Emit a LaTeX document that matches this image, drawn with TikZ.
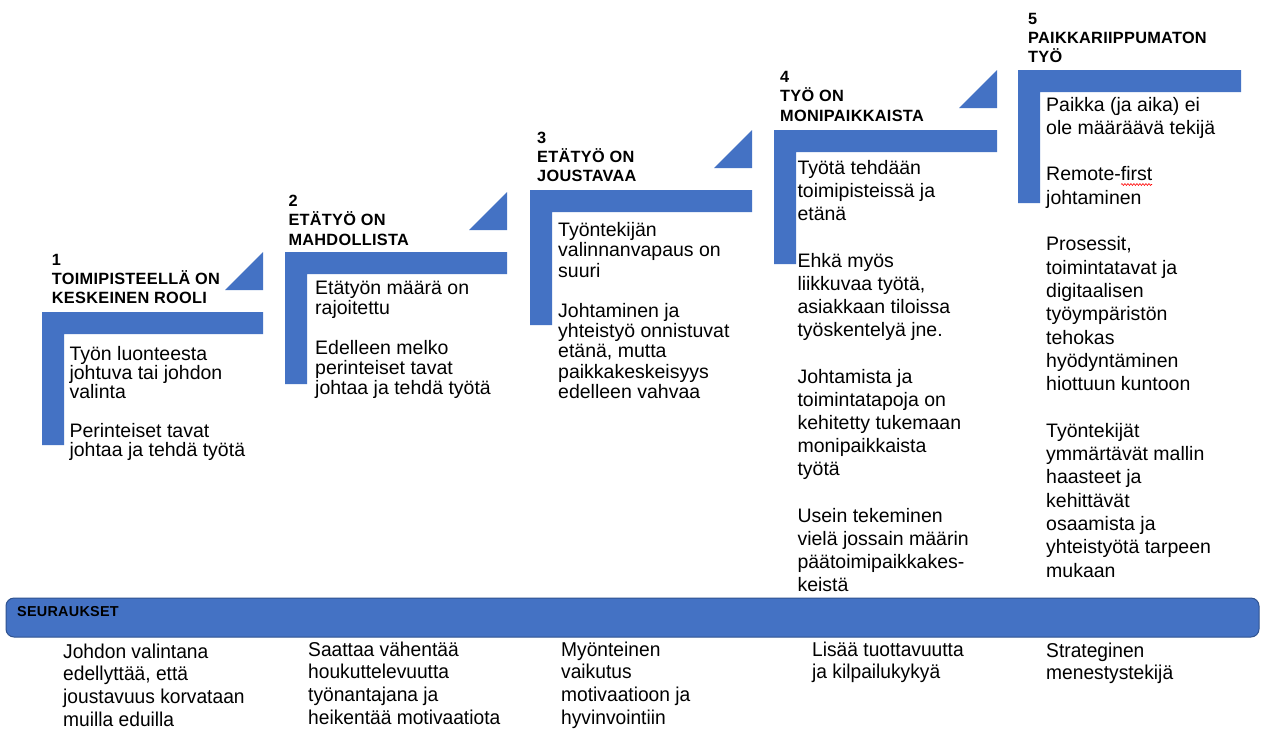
\documentclass[tikz,border=0pt]{standalone}
\usepackage{fontspec}
\setmainfont[Ligatures=NoCommon]{Liberation Sans}
\newfontfamily\narrowfont[FakeStretch=0.96,Ligatures=NoCommon]{Liberation Sans}
\newfontfamily\headfont[LetterSpace=1.8,Ligatures=NoCommon]{Liberation Sans}
\usetikzlibrary{decorations.pathmorphing}
\definecolor{stepblue}{HTML}{4472C4}
\definecolor{edgeblue}{HTML}{2F528F}
\newcommand\txtblock[2]{\vtop{\baselineskip=#1pt\lineskip=0pt\lineskiplimit=-1000pt\halign{##\hfil\cr#2\crcr}}}
\begin{document}
\begin{tikzpicture}[x=1pt,y=-1pt,
  stepshape/.style={fill=stepblue, draw=none},
  heading/.style={anchor=base west, inner sep=0pt, font=\headfont\fontsize{16.3}{19.2}\selectfont\bfseries},
  body/.style={anchor=base west, inner sep=0pt, font=\fontsize{19.5}{20}\selectfont},
  cons/.style={anchor=base west, inner sep=0pt, font=\narrowfont\fontsize{20}{23}\selectfont},
  consbar/.style={fill=stepblue, draw=edgeblue, line width=1pt, rounded corners=8pt}]
\useasboundingbox (0,0) rectangle (1261,729);
\fill[white] (0,0) rectangle (1261,729);

% ---- steps (L-shapes and triangles)
\foreach \xl/\xr/\yt/\yb in {42/263/312/445, 285/507/252/384, 530/752/190/325, 774/997/130/264, 1018/1241/70/203}{
  \fill[stepshape] (\xl,\yt) -- (\xr,\yt) -- (\xr,\yt+22) -- (\xl+22,\yt+22) -- (\xl+22,\yb) -- (\xl,\yb) -- cycle;
}
\foreach \xr/\yt in {263/312, 507/252, 752/190, 997/130}{
  \fill[stepshape] (\xr-38,\yt-22) -- (\xr,\yt-22) -- (\xr,\yt-60) -- cycle;
}

% ---- headings
\node[heading] (h1) at (51.7,265) {\txtblock{19.2}{1\cr TOIMIPISTEELLÄ ON\cr KESKEINEN ROOLI}};
\node[heading] (h2) at (288.3,206.7) {\txtblock{19.2}{2\cr ETÄTYÖ ON\cr MAHDOLLISTA}};
\node[heading] (h3) at (537,143.5) {\txtblock{19.2}{3\cr ETÄTYÖ ON\cr JOUSTAVAA}};
\node[heading] (h4) at (780,82.6) {\txtblock{19.2}{4\cr TYÖ ON\cr MONIPAIKKAISTA}};
\node[heading] (h5) at (1028,24.3) {\txtblock{19.2}{5\cr PAIKKARIIPPUMATON\cr TYÖ}};

% ---- bodies
\node[body] (b1) at (69.3,360) {\txtblock{19.3}{Työn luonteesta\cr johtuva tai johdon\cr valinta\cr\cr Perinteiset tavat\cr johtaa ja tehdä työtä}};
\node[body] (b2) at (315,294.3) {\txtblock{20}{Etätyön määrä on\cr rajoitettu\cr\cr Edelleen melko\cr perinteiset tavat\cr johtaa ja tehdä työtä}};
\node[body] (b3) at (558,236.7) {\txtblock{20.2}{Työntekijän\cr valinnanvapaus on\cr suuri\cr\cr Johtaminen ja\cr yhteistyö onnistuvat\cr etänä, mutta\cr paikkakeskeisyys\cr edelleen vahvaa}};
\node[body] (b4) at (797.3,174.3) {\txtblock{23.2}{Työtä tehdään\cr toimipisteissä ja\cr etänä\cr\cr Ehkä myös\cr liikkuvaa työtä,\cr asiakkaan tiloissa\cr työskentelyä jne.\cr\cr Johtamista ja\cr toimintatapoja on\cr kehitetty tukemaan\cr monipaikkaista\cr työtä\cr\cr Usein tekeminen\cr vielä jossain määrin\cr päätoimipaikkakes-\cr keistä}};
\node[body] (b5) at (1046,111) {\txtblock{23.3}{Paikka (ja aika) ei\cr ole määräävä tekijä\cr\cr Remote-first\cr johtaminen\cr\cr Prosessit,\cr toimintatavat ja\cr digitaalisen\cr työympäristön\cr tehokas\cr hyödyntäminen\cr hiottuun kuntoon\cr\cr Työntekijät\cr ymmärtävät mallin\cr haasteet ja\cr kehittävät\cr osaamista ja\cr yhteistyötä tarpeen\cr mukaan}};
% spell-check squiggle under "first"
\draw[red, line width=0.6pt, decorate, decoration={snake, amplitude=0.9pt, segment length=3pt}] (1121,184.5) -- (1152,184.5);

% ---- consequences bar
\draw[consbar] (6,598) rectangle (1259,637);
\node[anchor=base west, inner sep=0pt, font=\headfont\fontsize{14.4}{16}\selectfont\bfseries] (seur) at (17,616.7) {SEURAUKSET};

\node[cons] (c1) at (63,658) {\txtblock{22.7}{Johdon valintana\cr edellyttää, että\cr joustavuus korvataan\cr muilla eduilla}};
\node[cons] (c2) at (308,656) {\txtblock{22.7}{Saattaa vähentää\cr houkuttelevuutta\cr työnantajana ja\cr heikentää motivaatiota}};
\node[cons] (c3) at (561,656) {\txtblock{22.7}{Myönteinen\cr vaikutus\cr motivaatioon ja\cr hyvinvointiin}};
\node[cons] (c4) at (812,656) {\txtblock{22.7}{Lisää tuottavuutta\cr ja kilpailukykyä}};
\node[cons] (c5) at (1046,657) {\txtblock{22.7}{Strateginen\cr menestystekijä}};
\end{tikzpicture}
\end{document}
